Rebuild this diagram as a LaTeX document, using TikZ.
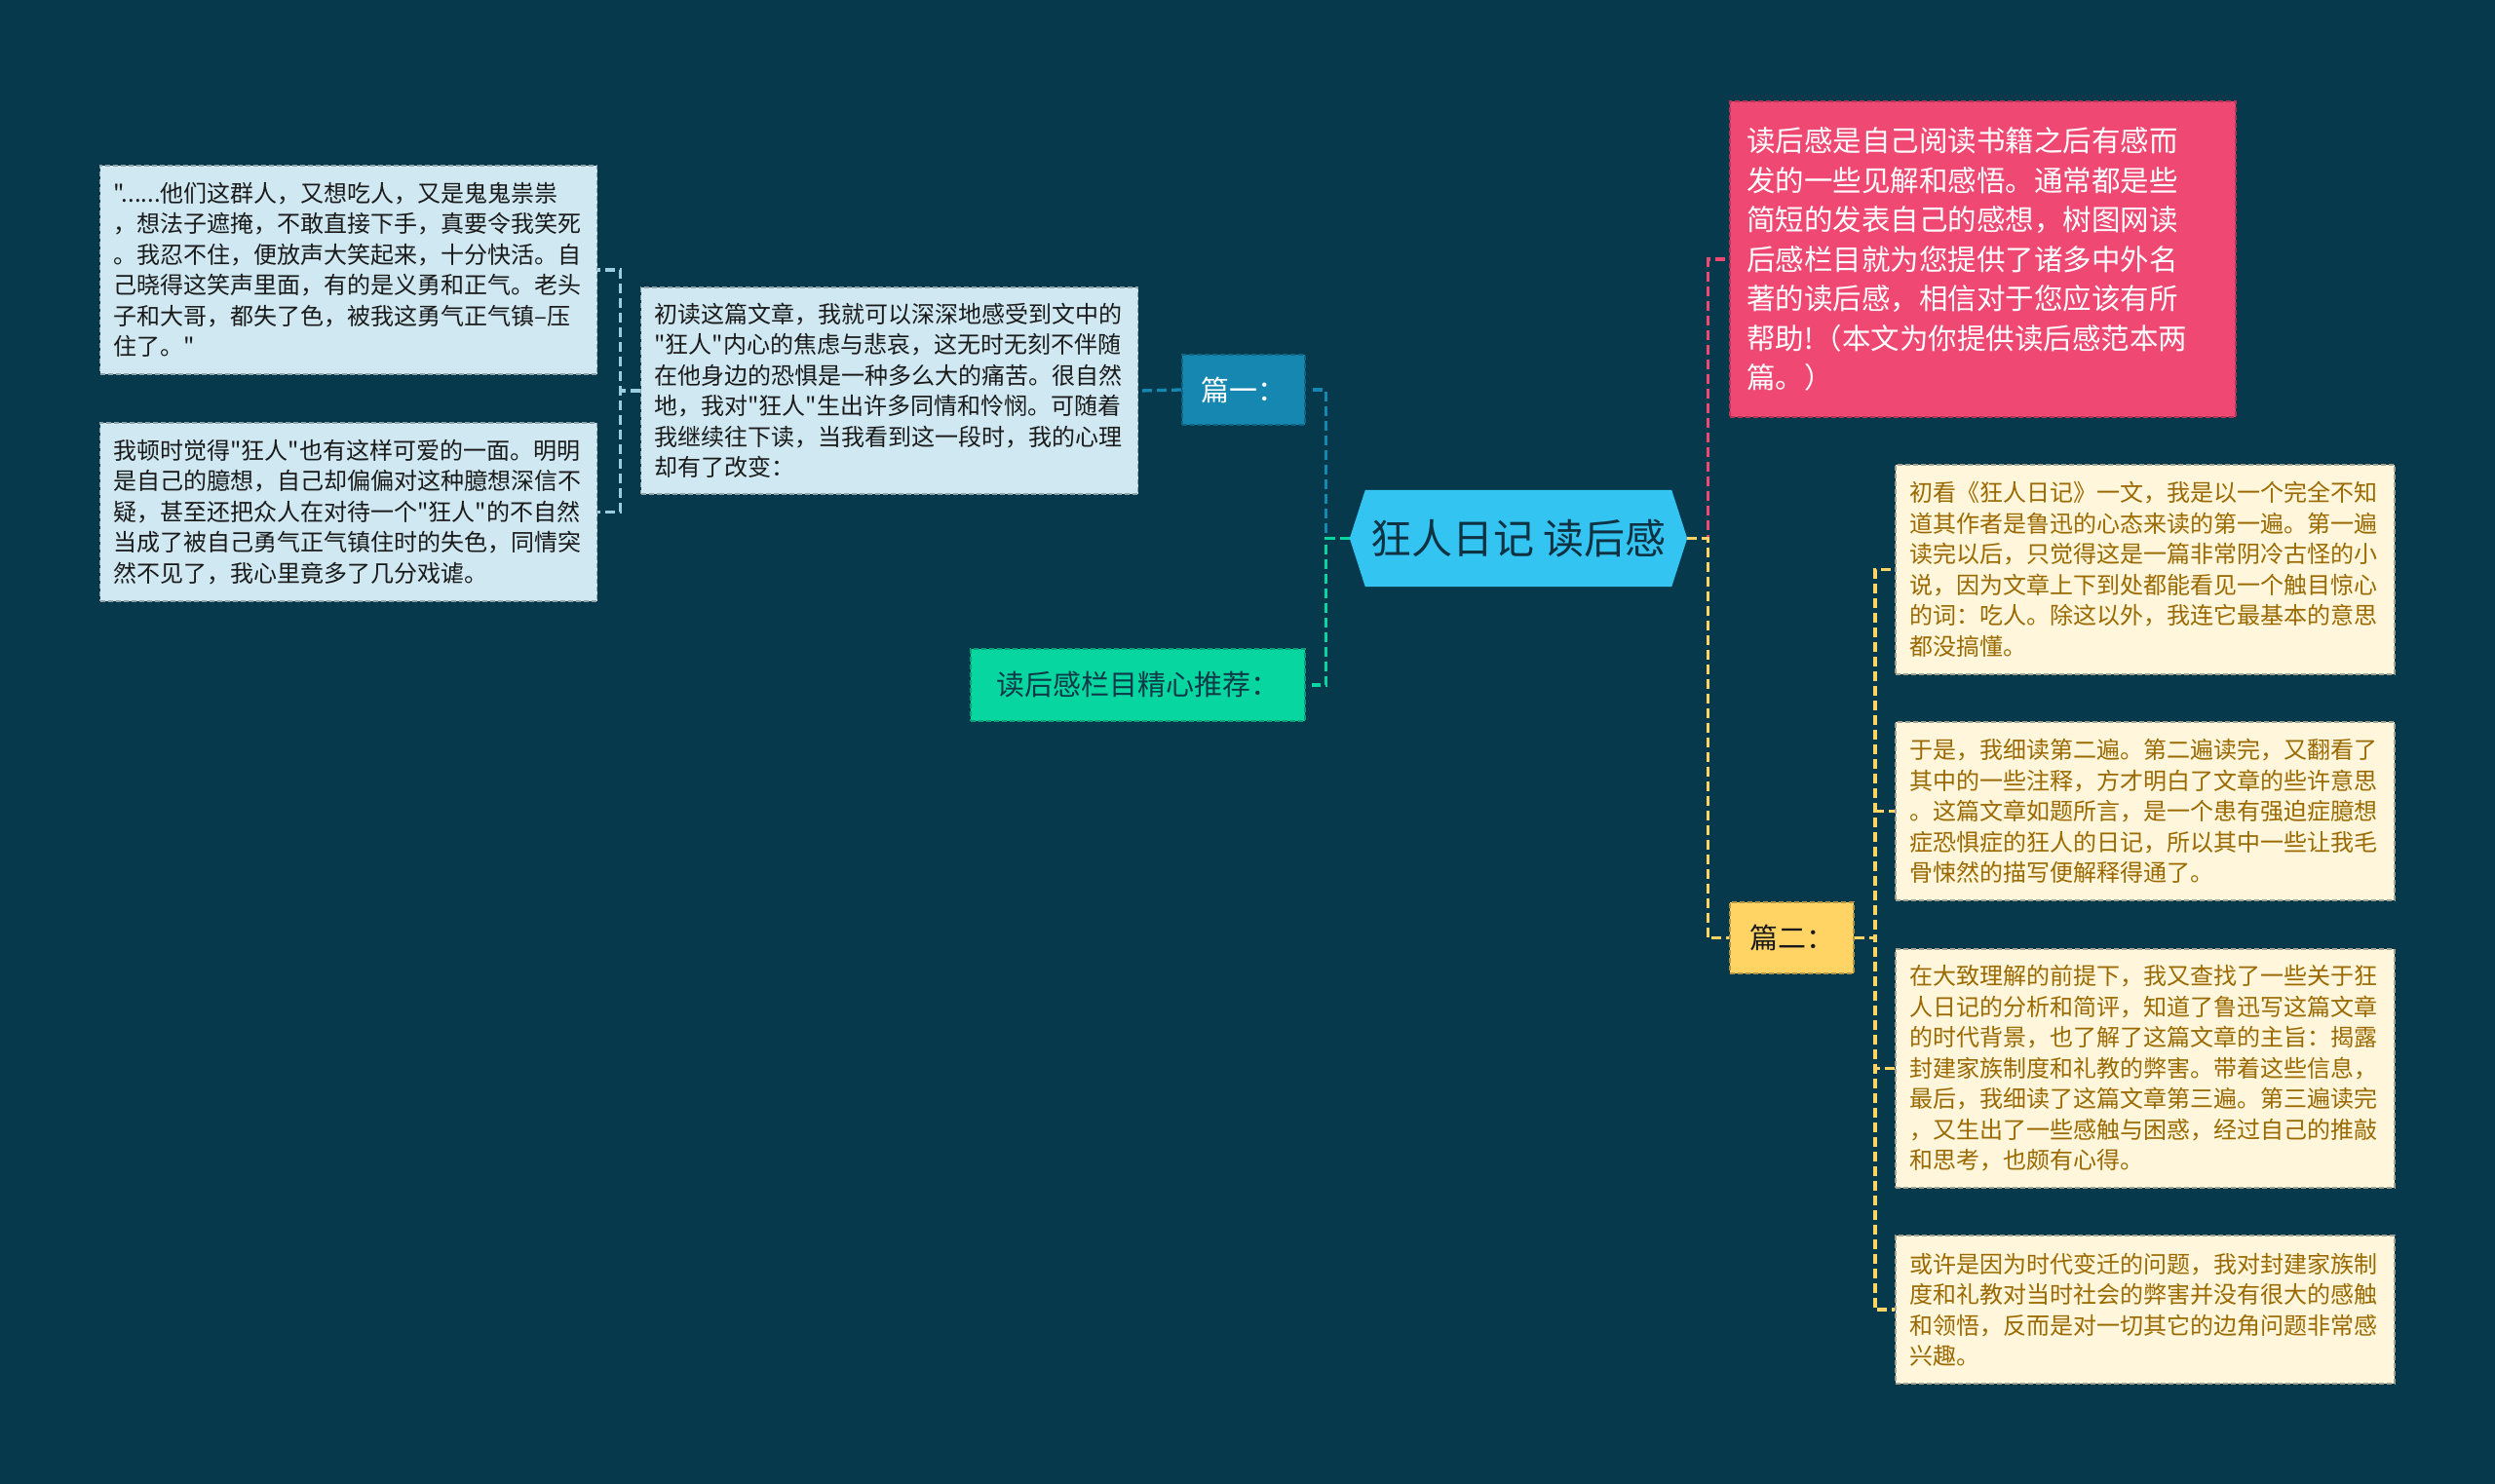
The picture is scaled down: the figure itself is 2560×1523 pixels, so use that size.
\documentclass[tikz,border=0pt]{standalone}
\usepackage{fontspec}
\setmainfont{Noto Sans CJK SC}[Ligatures=TeXOff]
\usetikzlibrary{backgrounds}
\definecolor{bg}{HTML}{07394C}
\definecolor{rootfill}{HTML}{33C4F2}
\definecolor{rootText}{HTML}{0F3242}
\definecolor{p1fill}{HTML}{1587B1}
\definecolor{recfill}{HTML}{07D6A0}
\definecolor{recText}{HTML}{0E3A48}
\definecolor{lbfill}{HTML}{CFE8F1}
\definecolor{lbline}{HTML}{9CCDE0}
\definecolor{pinkfill}{HTML}{EF4872}
\definecolor{yelfill}{HTML}{FFD465}
\definecolor{creamfill}{HTML}{FFF6DC}
\definecolor{creamText}{HTML}{9A6A00}
\definecolor{darkText}{HTML}{1A1A1A}
\tikzset{
  boxbase/.style={rectangle, draw, line width=1.8pt, dash pattern=on 5pt off 3pt, align=left},
  textbox/.style={boxbase, inner xsep=14pt, inner ysep=0pt,
    font=\fontsize{24pt}{31.5pt}\selectfont},
  lbbox/.style={textbox, fill=lbfill, draw=lbfill!70!black, text=darkText, text width=482pt},
  creambox/.style={textbox, fill=creamfill, draw=creamfill!65!black, text=creamText, text width=484pt},
  pinkbox/.style={boxbase, fill=pinkfill, draw=pinkfill!75!black, text=white, inner xsep=17pt, inner ysep=0pt,
    text width=485pt, font=\fontsize{29.5pt}{40.5pt}\selectfont},
  tagbox/.style={boxbase, inner sep=0pt, align=center, font=\fontsize{29pt}{34pt}\selectfont},
  conn/.style={line width=3.3pt, dash pattern=on 10pt off 5pt},
}
\begin{document}
\begin{tikzpicture}[x=1pt,y=-1pt]
\begin{scope}[on background layer]
\fill[bg] (0,0) rectangle (2560,1523);
\end{scope}
\useasboundingbox (0,0) rectangle (2560,1523);

% root
\node (root) [minimum width=346pt, minimum height=99pt, inner sep=0pt, text=rootText,
  font=\fontsize{42pt}{48pt}\selectfont] at (1558,552.5) {狂人日记 读后感};
\begin{scope}[on background layer]
\fill[rootfill] (root.west) -- ([xshift=16pt]root.north west) -- ([xshift=-16pt]root.north east)
  -- (root.east) -- ([xshift=-16pt]root.south east) -- ([xshift=16pt]root.south west) -- cycle;
\end{scope}

% left branch
\node (p1) [tagbox, fill=p1fill, draw=p1fill!75!black, text=white, minimum width=126pt, minimum height=72pt] at (1276,400) {篇一：};
\node (rec) [tagbox, fill=recfill, draw=recfill!75!black, text=recText, minimum width=343pt, minimum height=74pt] at (1167.5,703) {读后感栏目精心推荐：};

\node (m) [lbbox, minimum height=212pt] at (912.5,401) {初读这篇文章，我就可以深深地感受到文中的\\"狂人"内心的焦虑与悲哀，这无时无刻不伴随\\在他身边的恐惧是一种多么大的痛苦。很自然\\地，我对"狂人"生出许多同情和怜悯。可随着\\我继续往下读，当我看到这一段时，我的心理\\却有了改变：};

\node (l1) [lbbox, minimum height=214pt] at (357.5,277) {"......他们这群人，又想吃人，又是鬼鬼祟祟\\，想法子遮掩，不敢直接下手，真要令我笑死\\。我忍不住，便放声大笑起来，十分快活。自\\己晓得这笑声里面，有的是义勇和正气。老头\\子和大哥，都失了色，被我这勇气正气镇–压\\住了。"};
\node (l2) [lbbox, minimum height=183pt] at (357.5,525.5) {我顿时觉得"狂人"也有这样可爱的一面。明明\\是自己的臆想，自己却偏偏对这种臆想深信不\\疑，甚至还把众人在对待一个"狂人"的不自然\\当成了被自己勇气正气镇住时的失色，同情突\\然不见了，我心里竟多了几分戏谑。};

% right branch
\node (intro) [pinkbox, minimum height=324pt] at (2034.5,266) {读后感是自己阅读书籍之后有感而\\发的一些见解和感悟。通常都是些\\简短的发表自己的感想，树图网读\\后感栏目就为您提供了诸多中外名\\著的读后感，相信对于您应该有所\\帮助!（本文为你提供读后感范本两\\篇。）};
\node (p2) [tagbox, fill=yelfill, draw=yelfill!70!black, text=darkText, minimum width=127pt, minimum height=73pt] at (1838.5,962.5) {篇二：};

\node (ca) [creambox, minimum height=215pt] at (2201,584.5) {初看《狂人日记》一文，我是以一个完全不知\\道其作者是鲁迅的心态来读的第一遍。第一遍\\读完以后，只觉得这是一篇非常阴冷古怪的小\\说，因为文章上下到处都能看见一个触目惊心\\的词：吃人。除这以外，我连它最基本的意思\\都没搞懂。};
\node (cb) [creambox, minimum height=183pt] at (2201,832.5) {于是，我细读第二遍。第二遍读完，又翻看了\\其中的一些注释，方才明白了文章的些许意思\\。这篇文章如题所言，是一个患有强迫症臆想\\症恐惧症的狂人的日记，所以其中一些让我毛\\骨悚然的描写便解释得通了。};
\node (cc) [creambox, minimum height=245pt] at (2201,1096.5) {在大致理解的前提下，我又查找了一些关于狂\\人日记的分析和简评，知道了鲁迅写这篇文章\\的时代背景，也了解了这篇文章的主旨：揭露\\封建家族制度和礼教的弊害。带着这些信息，\\最后，我细读了这篇文章第三遍。第三遍读完\\，又生出了一些感触与困惑，经过自己的推敲\\和思考，也颇有心得。};
\node (cd) [creambox, minimum height=152pt] at (2201,1344) {或许是因为时代变迁的问题，我对封建家族制\\度和礼教对当时社会的弊害并没有很大的感触\\和领悟，反而是对一切其它的边角问题非常感\\兴趣。};

% connectors
\begin{scope}[on background layer]
\draw[conn, draw=p1fill] (root.west) -- ++(-24,0) |- ([xshift=6pt]p1.east);
\draw[conn, draw=recfill] (root.west) -- ++(-24,0) |- ([xshift=6pt]rec.east);
\draw[conn, draw=p1fill] (p1.west) -- (m.east);
\draw[conn, draw=lbline] (m.west) -- ++(-20,0) |- (l1.east);
\draw[conn, draw=lbline] (m.west) -- ++(-20,0) |- (l2.east);
\draw[conn, draw=pinkfill] (root.east) -- ++(21,0) |- (intro.west);
\draw[conn, draw=yelfill] (root.east) -- ++(21,0) |- (p2.west);
\draw[conn, draw=yelfill] (p2.east) -- ++(21,0) |- (ca.west);
\draw[conn, draw=yelfill] (p2.east) -- ++(21,0) |- (cb.west);
\draw[conn, draw=yelfill] (p2.east) -- ++(21,0) |- (cc.west);
\draw[conn, draw=yelfill] (p2.east) -- ++(21,0) |- (cd.west);
\end{scope}
\end{tikzpicture}
\end{document}
